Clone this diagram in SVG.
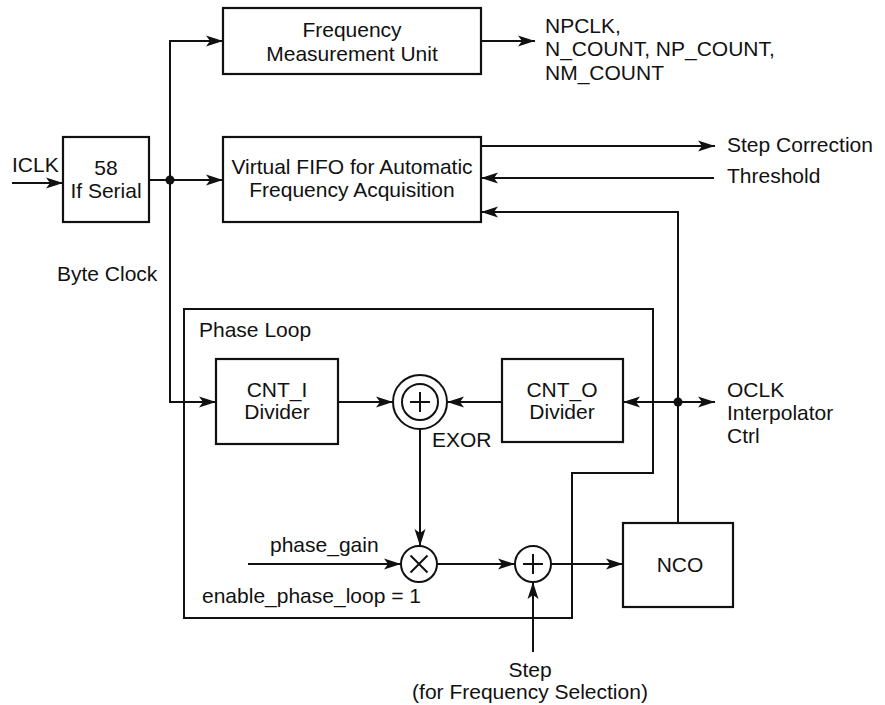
<svg xmlns="http://www.w3.org/2000/svg" width="885" height="705" viewBox="0 0 885 705">
<style>
text{font-family:"Liberation Sans",Arial,sans-serif;font-size:21px;fill:#111}
.c{text-anchor:middle}
.box{fill:#fff;stroke:#111;stroke-width:2.2}
.ln{fill:none;stroke:#111;stroke-width:2}
.ar{fill:none;stroke:#111;stroke-width:2;marker-end:url(#ah)}
</style>
<defs>
<marker id="ah" markerUnits="userSpaceOnUse" markerWidth="17" markerHeight="12" refX="17" refY="6" orient="auto">
<path d="M0,0.5 L17,6 L0,11.5 L4,6 Z" fill="#111"/>
</marker>
</defs>
<g id="phase-loop">
<path class="ln" d="M184,309 H653 V473 H572 V618 H184 Z"/>
<text x="199" y="337">Phase Loop</text>
<text x="202" y="603">enable_phase_loop = 1</text>
</g>
<g id="connectors">
<path class="ar" d="M12,183 H63"/>
<path class="ln" d="M149,180 H170"/>
<path class="ar" d="M170,180 H223"/>
<path class="ar" d="M170,180 V41 H223"/>
<path class="ar" d="M170,180 V402 H216"/>
<path class="ar" d="M481,41 H535"/>
<path class="ar" d="M481,146 H715"/>
<path class="ar" d="M714,178 H481"/>
<path class="ar" d="M678,523 V212 H481"/>
<path class="ar" d="M678,402 H623"/>
<path class="ar" d="M678,402 H715"/>
<path class="ar" d="M338,402 H393"/>
<path class="ar" d="M502,402 H447"/>
<path class="ar" d="M420,429 V546"/>
<path class="ar" d="M248,564 H401"/>
<path class="ar" d="M437,564 H515"/>
<path class="ar" d="M551,564 H623"/>
<path class="ar" d="M533,652 V582"/>
<circle cx="170" cy="180" r="4.5" fill="#111"/>
<circle cx="678" cy="402" r="4.5" fill="#111"/>
</g>
<g id="iclk">
<text x="12" y="172">ICLK</text>
</g>
<g id="serial">
<rect class="box" x="63" y="137" width="86" height="85"/>
<text class="c" x="106" y="175">58</text>
<text class="c" x="106" y="198">If Serial</text>
</g>
<g id="byte-clock">
<text x="57" y="281">Byte Clock</text>
</g>
<g id="fmu">
<rect class="box" x="223" y="8" width="258" height="66"/>
<text class="c" x="352" y="37">Frequency</text>
<text class="c" x="352" y="61">Measurement Unit</text>
</g>
<g id="fmu-out">
<text x="545" y="33">NPCLK,</text>
<text x="545" y="56">N_COUNT, NP_COUNT,</text>
<text x="545" y="80">NM_COUNT</text>
</g>
<g id="vfifo">
<rect class="box" x="223" y="137" width="258" height="85"/>
<text class="c" x="352" y="174">Virtual FIFO for Automatic</text>
<text class="c" x="352" y="197">Frequency Acquisition</text>
</g>
<g id="step-correction"><text x="727" y="152">Step Correction</text></g>
<g id="threshold"><text x="727" y="183">Threshold</text></g>
<g id="cnt-i">
<rect class="box" x="216" y="359" width="122" height="85"/>
<text class="c" x="277" y="397">CNT_I</text>
<text class="c" x="277" y="419">Divider</text>
</g>
<g id="exor">
<circle cx="420" cy="402" r="27" fill="#fff" stroke="#111" stroke-width="2"/>
<circle cx="420" cy="402" r="18" fill="#fff" stroke="#111" stroke-width="2"/>
<path class="ln" d="M410,402 H430 M420,392 V412"/>
<text x="432" y="447">EXOR</text>
</g>
<g id="cnt-o">
<rect class="box" x="502" y="359" width="121" height="83"/>
<text class="c" x="562" y="397">CNT_O</text>
<text class="c" x="562" y="419">Divider</text>
</g>
<g id="oclk">
<text x="727" y="397">OCLK</text>
<text x="727" y="420">Interpolator</text>
<text x="727" y="443">Ctrl</text>
</g>
<g id="phase-gain"><text x="270" y="552">phase_gain</text></g>
<g id="mult">
<circle cx="419" cy="564" r="18" fill="#fff" stroke="#111" stroke-width="2"/>
<path class="ln" d="M410.5,555.5 L427.5,572.5 M427.5,555.5 L410.5,572.5"/>
</g>
<g id="sum">
<circle cx="533" cy="564" r="18" fill="#fff" stroke="#111" stroke-width="2"/>
<path class="ln" d="M523,564 H543 M533,554 V574"/>
</g>
<g id="nco">
<rect class="box" x="623" y="523" width="110" height="84"/>
<text class="c" x="680" y="572">NCO</text>
</g>
<g id="step">
<text class="c" x="530" y="677">Step</text>
<text class="c" x="530" y="699">(for Frequency Selection)</text>
</g>
</svg>
